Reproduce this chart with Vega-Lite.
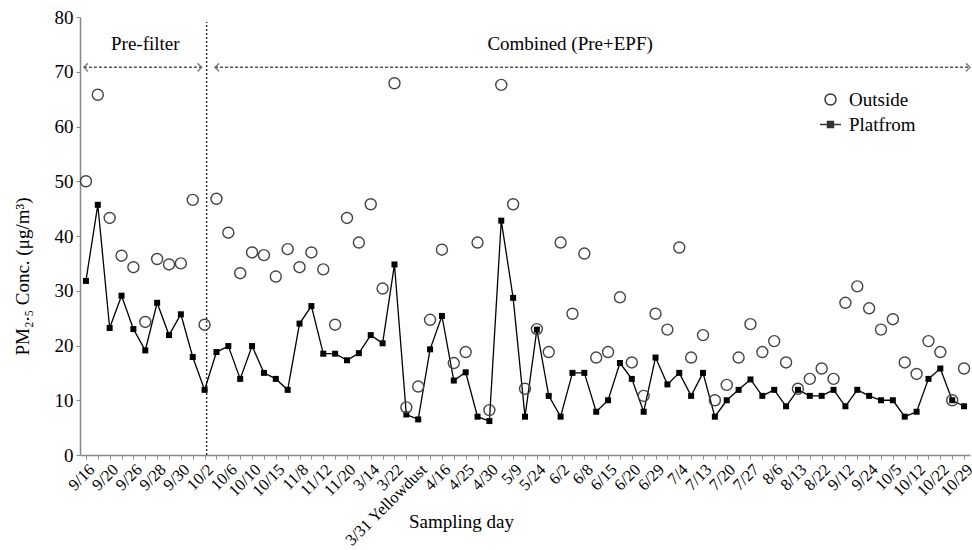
{
  "$schema": "https://vega.github.io/schema/vega-lite/v6.json",
  "autosize": {"type": "none"},
  "padding": {"left": 80, "top": 17, "right": 2, "bottom": 95},
  "width": 890,
  "height": 438,
  "config": {"view": {"stroke": null}, "font": "Liberation Serif", "axis": {"labelFont": "Liberation Serif", "titleFont": "Liberation Serif"}},
  "datasets": {
    "pm": [
      {"i":0,"series":"Outside","v":50.0},{"i":1,"series":"Outside","v":65.8},{"i":2,"series":"Outside","v":43.3},{"i":3,"series":"Outside","v":36.4},{"i":4,"series":"Outside","v":34.3},
      {"i":5,"series":"Outside","v":24.3},{"i":6,"series":"Outside","v":35.8},{"i":7,"series":"Outside","v":34.8},{"i":8,"series":"Outside","v":35.0},{"i":9,"series":"Outside","v":46.6},
      {"i":10,"series":"Outside","v":23.8},{"i":11,"series":"Outside","v":46.8},{"i":12,"series":"Outside","v":40.6},{"i":13,"series":"Outside","v":33.2},{"i":14,"series":"Outside","v":37.0},
      {"i":15,"series":"Outside","v":36.5},{"i":16,"series":"Outside","v":32.6},{"i":17,"series":"Outside","v":37.6},{"i":18,"series":"Outside","v":34.3},{"i":19,"series":"Outside","v":37.0},
      {"i":20,"series":"Outside","v":33.9},{"i":21,"series":"Outside","v":23.8},{"i":22,"series":"Outside","v":43.3},{"i":23,"series":"Outside","v":38.8},{"i":24,"series":"Outside","v":45.8},
      {"i":25,"series":"Outside","v":30.4},{"i":26,"series":"Outside","v":67.9},{"i":27,"series":"Outside","v":8.7},{"i":28,"series":"Outside","v":12.5},{"i":29,"series":"Outside","v":24.7},
      {"i":30,"series":"Outside","v":37.5},{"i":31,"series":"Outside","v":16.8},{"i":32,"series":"Outside","v":18.8},{"i":33,"series":"Outside","v":38.8},{"i":34,"series":"Outside","v":8.2},
      {"i":35,"series":"Outside","v":67.6},{"i":36,"series":"Outside","v":45.8},{"i":37,"series":"Outside","v":12.1},{"i":38,"series":"Outside","v":23.0},{"i":39,"series":"Outside","v":18.8},
      {"i":40,"series":"Outside","v":38.8},{"i":41,"series":"Outside","v":25.8},{"i":42,"series":"Outside","v":36.8},{"i":43,"series":"Outside","v":17.8},{"i":44,"series":"Outside","v":18.8},
      {"i":45,"series":"Outside","v":28.8},{"i":46,"series":"Outside","v":16.9},{"i":47,"series":"Outside","v":10.8},{"i":48,"series":"Outside","v":25.8},{"i":49,"series":"Outside","v":22.9},
      {"i":50,"series":"Outside","v":37.9},{"i":51,"series":"Outside","v":17.8},{"i":52,"series":"Outside","v":21.9},{"i":53,"series":"Outside","v":10.0},{"i":54,"series":"Outside","v":12.8},
      {"i":55,"series":"Outside","v":17.8},{"i":56,"series":"Outside","v":23.9},{"i":57,"series":"Outside","v":18.8},{"i":58,"series":"Outside","v":20.8},{"i":59,"series":"Outside","v":16.9},
      {"i":60,"series":"Outside","v":12.1},{"i":61,"series":"Outside","v":13.9},{"i":62,"series":"Outside","v":15.8},{"i":63,"series":"Outside","v":13.9},{"i":64,"series":"Outside","v":27.8},
      {"i":65,"series":"Outside","v":30.8},{"i":66,"series":"Outside","v":26.8},{"i":67,"series":"Outside","v":22.9},{"i":68,"series":"Outside","v":24.8},{"i":69,"series":"Outside","v":16.9},
      {"i":70,"series":"Outside","v":14.8},{"i":71,"series":"Outside","v":20.8},{"i":72,"series":"Outside","v":18.8},{"i":73,"series":"Outside","v":10.0},{"i":74,"series":"Outside","v":15.8},
      {"i":0,"series":"Platfrom","v":31.8},{"i":1,"series":"Platfrom","v":45.7},{"i":2,"series":"Platfrom","v":23.2},{"i":3,"series":"Platfrom","v":29.1},{"i":4,"series":"Platfrom","v":23.0},
      {"i":5,"series":"Platfrom","v":19.1},{"i":6,"series":"Platfrom","v":27.8},{"i":7,"series":"Platfrom","v":21.9},{"i":8,"series":"Platfrom","v":25.7},{"i":9,"series":"Platfrom","v":17.9},
      {"i":10,"series":"Platfrom","v":11.9},{"i":11,"series":"Platfrom","v":18.8},{"i":12,"series":"Platfrom","v":19.9},{"i":13,"series":"Platfrom","v":13.9},{"i":14,"series":"Platfrom","v":19.9},
      {"i":15,"series":"Platfrom","v":15.0},{"i":16,"series":"Platfrom","v":13.9},{"i":17,"series":"Platfrom","v":11.9},{"i":18,"series":"Platfrom","v":24.0},{"i":19,"series":"Platfrom","v":27.2},
      {"i":20,"series":"Platfrom","v":18.5},{"i":21,"series":"Platfrom","v":18.5},{"i":22,"series":"Platfrom","v":17.3},{"i":23,"series":"Platfrom","v":18.6},{"i":24,"series":"Platfrom","v":21.9},
      {"i":25,"series":"Platfrom","v":20.4},{"i":26,"series":"Platfrom","v":34.8},{"i":27,"series":"Platfrom","v":7.4},{"i":28,"series":"Platfrom","v":6.5},{"i":29,"series":"Platfrom","v":19.3},
      {"i":30,"series":"Platfrom","v":25.4},{"i":31,"series":"Platfrom","v":13.6},{"i":32,"series":"Platfrom","v":15.1},{"i":33,"series":"Platfrom","v":7.0},{"i":34,"series":"Platfrom","v":6.2},
      {"i":35,"series":"Platfrom","v":42.8},{"i":36,"series":"Platfrom","v":28.7},{"i":37,"series":"Platfrom","v":7.0},{"i":38,"series":"Platfrom","v":22.9},{"i":39,"series":"Platfrom","v":10.8},
      {"i":40,"series":"Platfrom","v":7.0},{"i":41,"series":"Platfrom","v":15.0},{"i":42,"series":"Platfrom","v":15.0},{"i":43,"series":"Platfrom","v":7.9},{"i":44,"series":"Platfrom","v":10.0},
      {"i":45,"series":"Platfrom","v":16.8},{"i":46,"series":"Platfrom","v":13.9},{"i":47,"series":"Platfrom","v":7.9},{"i":48,"series":"Platfrom","v":17.8},{"i":49,"series":"Platfrom","v":12.9},
      {"i":50,"series":"Platfrom","v":15.0},{"i":51,"series":"Platfrom","v":10.8},{"i":52,"series":"Platfrom","v":15.0},{"i":53,"series":"Platfrom","v":7.0},{"i":54,"series":"Platfrom","v":10.0},
      {"i":55,"series":"Platfrom","v":11.9},{"i":56,"series":"Platfrom","v":13.8},{"i":57,"series":"Platfrom","v":10.8},{"i":58,"series":"Platfrom","v":11.9},{"i":59,"series":"Platfrom","v":8.9},
      {"i":60,"series":"Platfrom","v":11.9},{"i":61,"series":"Platfrom","v":10.8},{"i":62,"series":"Platfrom","v":10.8},{"i":63,"series":"Platfrom","v":11.9},{"i":64,"series":"Platfrom","v":8.9},
      {"i":65,"series":"Platfrom","v":11.9},{"i":66,"series":"Platfrom","v":10.8},{"i":67,"series":"Platfrom","v":10.0},{"i":68,"series":"Platfrom","v":10.0},{"i":69,"series":"Platfrom","v":7.0},
      {"i":70,"series":"Platfrom","v":7.9},{"i":71,"series":"Platfrom","v":13.9},{"i":72,"series":"Platfrom","v":15.8},{"i":73,"series":"Platfrom","v":10.0},{"i":74,"series":"Platfrom","v":8.9}
    ]
  },
  "layer": [
    {
      "data": {"values": [{"x": 10.17, "y": 0, "y2": 79.1}]},
      "mark": {"type": "rule", "strokeDash": [2, 2], "strokeWidth": 1.5, "color": "#333"},
      "encoding": {
        "x": {"field": "x", "type": "quantitative", "scale": {"domain": [-0.5, 74.5], "nice": false, "zero": false}, "axis": {
          "values": [0,1,2,3,4,5,6,7,8,9,10,11,12,13,14,15,16,17,18,19,20,21,22,23,24,25,26,27,28,29,30,31,32,33,34,35,36,37,38,39,40,41,42,43,44,45,46,47,48,49,50,51,52,53,54,55,56,57,58,59,60,61,62,63,64,65,66,67,68,69,70,71,72,73,74],
          "tickCount": 200,
          "labelExpr": "datum.value % 2 == 0 ? ['9/16','9/20','9/26','9/28','9/30','10/2','10/6','10/10','10/15','11/8','11/12','11/20','3/14','3/22','3/31 Yellowdust','4/16','4/25','4/30','5/9','5/24','6/2','6/8','6/15','6/20','6/29','7/4','7/13','7/20','7/27','8/6','8/13','8/22','9/12','9/24','10/5','10/12','10/22','10/29'][datum.value / 2] : ''",
          "labelAngle": -45, "labelFontSize": 16.5, "labelColor": "black", "labelOverlap": false, "labelBound": false, "labelFlush": false, "labelPadding": 2,
          "labelFont": "Liberation Serif",
          "domainColor": "#888", "domainWidth": 1.5, "tickColor": "#888", "tickSize": 4, "grid": false,
          "title": "Sampling day", "titleFont": "Liberation Serif", "titleFontSize": 19, "titleFontWeight": "normal", "titleColor": "black",
          "titleX": 381, "titleY": 72, "titleAlign": "center", "titleBaseline": "alphabetic"
        }},
        "y": {"field": "y", "type": "quantitative", "scale": {"domain": [0, 80], "nice": false}, "axis": {
          "values": [0,10,20,30,40,50,60,70,80], "tickCount": 20, "labelFontSize": 19, "labelColor": "black", "labelFont": "Liberation Serif", "labelPadding": 3,
          "domainColor": "#888", "domainWidth": 1.5, "tickColor": "#888", "tickSize": 4, "grid": false,
          "title": "PM₂.₅ Conc. (μg/m³)", "titleFont": "Liberation Serif", "titleFontSize": 19, "titleFontWeight": "normal", "titleColor": "black",
          "titleX": -52, "titleY": 259, "titleAngle": -90, "titleAlign": "center", "titleBaseline": "alphabetic"
        }},
        "y2": {"field": "y2"}
      }
    },
    {
      "data": {"values": [{"x": -0.17, "x2": 9.75, "y": 70.8}, {"x": 10.88, "x2": 74.5, "y": 70.8}]},
      "mark": {"type": "rule", "strokeDash": [3, 2], "strokeWidth": 1.5, "color": "#555"},
      "encoding": {
        "x": {"field": "x", "type": "quantitative"},
        "x2": {"field": "x2"},
        "y": {"field": "y", "type": "quantitative"}
      }
    },
    {
      "data": {"values": [{"x": -0.17, "y": 70.8}, {"x": 10.88, "y": 70.8}]},
      "mark": {"type": "point", "shape": "M1,-1L0,0L1,1", "size": 64, "filled": false, "stroke": "#555", "strokeWidth": 1.5},
      "encoding": {
        "x": {"field": "x", "type": "quantitative"},
        "y": {"field": "y", "type": "quantitative"}
      }
    },
    {
      "data": {"values": [{"x": 9.75, "y": 70.8}, {"x": 74.5, "y": 70.8}]},
      "mark": {"type": "point", "shape": "M-1,-1L0,0L-1,1", "size": 64, "filled": false, "stroke": "#555", "strokeWidth": 1.5},
      "encoding": {
        "x": {"field": "x", "type": "quantitative"},
        "y": {"field": "y", "type": "quantitative"}
      }
    },
    {
      "data": {"values": [{"x": 5, "y": 75, "t": "Pre-filter"}, {"x": 40.8, "y": 75, "t": "Combined (Pre+EPF)"}]},
      "mark": {"type": "text", "font": "Liberation Serif", "fontSize": 19, "color": "black", "baseline": "middle", "align": "center"},
      "encoding": {
        "x": {"field": "x", "type": "quantitative"},
        "y": {"field": "y", "type": "quantitative"},
        "text": {"field": "t"}
      }
    },
    {
      "data": {"name": "pm"},
      "transform": [{"filter": "datum.series == 'Platfrom'"}],
      "mark": {"type": "line", "color": "black", "strokeWidth": 1.3},
      "encoding": {
        "x": {"field": "i", "type": "quantitative"},
        "y": {"field": "v", "type": "quantitative"}
      }
    },
    {
      "data": {"name": "pm"},
      "transform": [{"filter": "datum.series == 'Platfrom'"}],
      "mark": {"type": "point", "shape": "square", "filled": true, "color": "black", "size": 36, "opacity": 1},
      "encoding": {
        "x": {"field": "i", "type": "quantitative"},
        "y": {"field": "v", "type": "quantitative"}
      }
    },
    {
      "data": {"name": "pm"},
      "transform": [{"filter": "datum.series == 'Outside'"}],
      "mark": {"type": "point", "filled": false, "stroke": "#444", "strokeWidth": 1.4, "size": 121, "opacity": 1},
      "encoding": {
        "x": {"field": "i", "type": "quantitative"},
        "y": {"field": "v", "type": "quantitative"},
        "shape": {"field": "series", "type": "nominal",
          "scale": {"domain": ["Outside", "Platfrom"], "range": ["circle", "M-1.9,0H1.9M-0.55,-0.55H0.55V0.55H-0.55ZM-0.55,-0.27H0.55M-0.55,0.27H0.55"]},
          "legend": {
            "orient": "none", "legendX": 741, "legendY": 73, "title": null,
            "labelFont": "Liberation Serif", "labelFontSize": 19, "labelColor": "black", "labelOffset": 9, "rowPadding": 5,
            "symbolSize": 121, "symbolStrokeWidth": 1.4, "symbolStrokeColor": "#333"
          }}
      }
    }
  ]
}
